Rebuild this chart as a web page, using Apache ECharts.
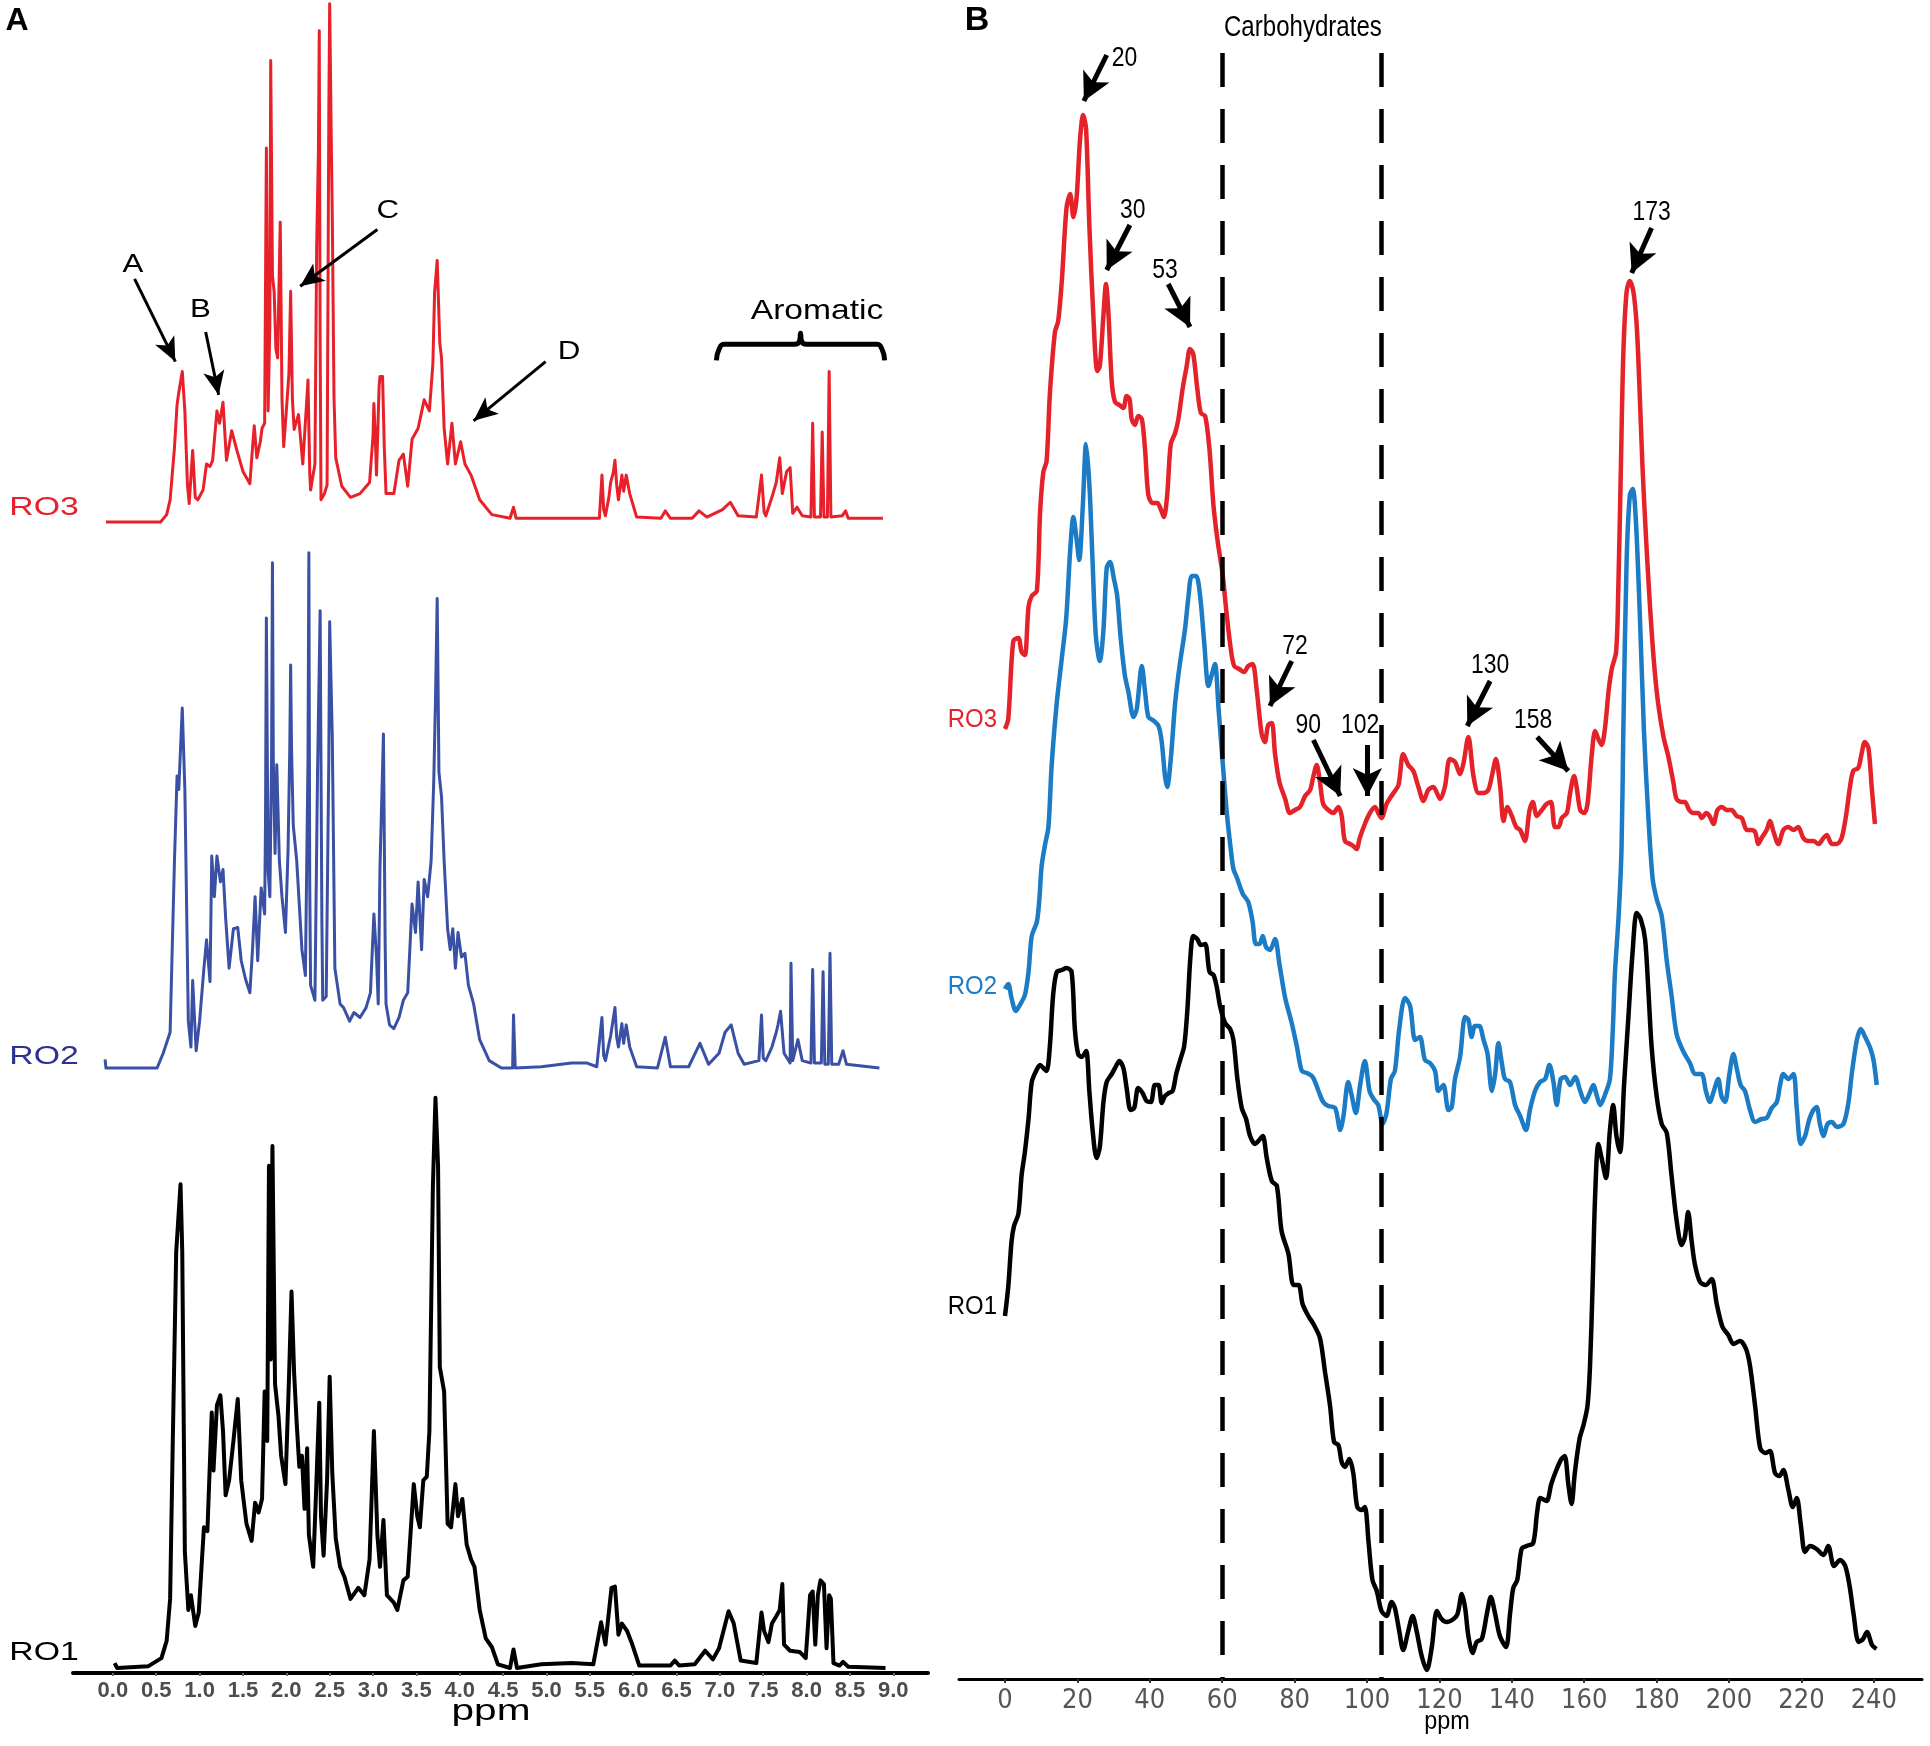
<!DOCTYPE html>
<html>
<head>
<meta charset="utf-8">
<script src="https://cdn.jsdelivr.net/npm/echarts@6/dist/echarts.min.js"></script>
<style>
  html, body { margin: 0; padding: 0; background: #fff; }
  #chart { width: 1930px; height: 1746px; }
</style>
</head>
<body>
<div id="chart"></div>
<script>
// ---- Panel A: 1H NMR (ppm, intensity a.u.) ----
const hTicks = [0, 0.5, 1, 1.5, 2, 2.5, 3, 3.5, 4, 4.5, 5, 5.5, 6, 6.5, 7, 7.5, 8, 8.5, 9];

const hRO3Ppm = [-0.08,0.55,0.62,0.66,0.71,0.74,0.76,0.80,0.83,0.86,0.88,0.92,0.95,0.98,1.04,1.08,1.12,1.15,1.20,1.23,1.27,1.31,1.37,1.43,1.50,1.58,1.61,1.63,1.66,1.70,1.72,1.75,1.77,1.79,1.81,1.82,1.84,1.86,1.88,1.90,1.93,1.95,1.97,2.00,2.03,2.05,2.07,2.09,2.14,2.19,2.25,2.27,2.28,2.33,2.35,2.37,2.38,2.39,2.40,2.44,2.47,2.49,2.50,2.52,2.53,2.55,2.57,2.64,2.74,2.85,2.96,3.00,3.01,3.03,3.04,3.07,3.08,3.11,3.13,3.15,3.24,3.30,3.35,3.40,3.45,3.52,3.59,3.65,3.69,3.71,3.74,3.77,3.79,3.82,3.86,3.91,3.95,4.01,4.06,4.13,4.23,4.37,4.58,4.62,4.65,5.08,5.61,5.64,5.66,5.68,5.72,5.74,5.77,5.79,5.81,5.83,5.87,5.89,5.92,5.96,6.04,6.32,6.37,6.43,6.68,6.76,6.85,7.03,7.12,7.21,7.42,7.48,7.51,7.53,7.60,7.65,7.69,7.72,7.77,7.81,7.84,7.89,7.95,8.05,8.07,8.09,8.16,8.18,8.20,8.24,8.26,8.28,8.41,8.45,8.48,8.88];
const hRO3Int = [0,0,6,18,60,95,105,122,90,30,15,58,20,18,26,47,45,50,90,80,97,50,74,58,41,31,60,78,52,65,76,80,303,90,160,374,200,186,140,133,243,100,61,90,120,187,100,75,87,47,115,40,26,47,223,300,398,150,18,23,30,330,420,300,249,100,52,29,20,23,32,70,96,60,38,110,118,118,60,23,23,50,55,29,67,76,99,90,128,186,212,145,133,76,47,80,47,65,47,38,18,6,3,12,3,3,3,38,10,5,20,32,40,50,30,18,38,25,38,23,4,3,9,3,3,9,4,10,16,5,4,38,8,5,20,32,52,23,41,44,7,12,5,4,80,4,4,73,4,4,122,4,5,9,3,3];

const hRO2Ppm = [-0.09,-0.08,0.51,0.58,0.66,0.71,0.74,0.76,0.80,0.83,0.87,0.90,0.92,0.96,1.00,1.05,1.08,1.12,1.14,1.17,1.20,1.24,1.27,1.30,1.34,1.39,1.44,1.48,1.53,1.58,1.61,1.64,1.67,1.71,1.75,1.76,1.77,1.79,1.81,1.83,1.84,1.85,1.87,1.89,1.92,1.95,1.99,2.02,2.04,2.05,2.06,2.08,2.12,2.18,2.22,2.25,2.26,2.27,2.28,2.33,2.36,2.39,2.41,2.42,2.46,2.49,2.50,2.53,2.56,2.62,2.66,2.73,2.78,2.85,2.92,2.97,3.01,3.04,3.06,3.08,3.12,3.14,3.15,3.19,3.24,3.30,3.35,3.40,3.45,3.49,3.52,3.56,3.59,3.63,3.67,3.70,3.72,3.74,3.76,3.79,3.82,3.86,3.89,3.92,3.95,3.98,4.02,4.06,4.10,4.16,4.23,4.34,4.48,4.61,4.62,4.64,4.94,5.29,5.47,5.58,5.64,5.66,5.68,5.74,5.79,5.81,5.83,5.87,5.89,5.92,5.96,6.04,6.28,6.37,6.43,6.64,6.77,6.87,6.99,7.06,7.13,7.21,7.28,7.45,7.48,7.50,7.53,7.60,7.65,7.67,7.70,7.74,7.81,7.82,7.84,7.90,7.95,8.05,8.07,8.09,8.17,8.19,8.21,8.25,8.27,8.29,8.37,8.42,8.46,8.84];
const hRO2Int = [7,0,0,12,29,168,237,226,292,226,38,17,71,14,38,81,104,70,172,139,172,151,161,122,81,113,114,87,72,61,96,139,87,146,125,200,365,160,139,250,410,250,174,246,168,139,110,177,260,327,260,197,168,96,75,250,418,150,67,55,240,371,120,55,58,250,362,269,81,52,49,38,45,41,49,61,125,90,52,162,271,100,52,35,32,41,55,61,133,110,151,96,153,139,168,232,298,381,240,220,168,113,96,113,81,110,90,93,67,52,23,6,0,0,43,0,1,4,4,1,41,10,6,26,49,25,17,36,20,35,17,1,0,25,1,1,20,3,12,29,35,12,3,6,43,8,6,17,29,35,46,12,4,85,6,23,6,4,80,4,4,78,3,3,93,3,3,14,3,0];

const hRO1Ppm = [0.02,0.05,0.41,0.56,0.62,0.66,0.69,0.73,0.78,0.80,0.83,0.87,0.90,0.95,0.99,1.05,1.09,1.14,1.16,1.20,1.24,1.27,1.30,1.34,1.39,1.44,1.48,1.54,1.60,1.64,1.68,1.72,1.75,1.78,1.80,1.82,1.84,1.87,1.91,1.94,1.99,2.03,2.06,2.09,2.12,2.15,2.18,2.21,2.24,2.26,2.31,2.34,2.38,2.40,2.43,2.47,2.50,2.53,2.57,2.62,2.67,2.74,2.83,2.90,2.96,3.01,3.05,3.08,3.12,3.16,3.24,3.28,3.35,3.40,3.44,3.47,3.51,3.54,3.58,3.62,3.65,3.69,3.72,3.75,3.77,3.82,3.86,3.90,3.95,3.98,4.03,4.08,4.13,4.17,4.23,4.30,4.37,4.44,4.58,4.62,4.66,4.94,5.29,5.54,5.63,5.68,5.75,5.79,5.83,5.87,5.93,5.99,6.07,6.43,6.48,6.53,6.71,6.83,6.92,6.99,7.10,7.16,7.24,7.42,7.48,7.51,7.56,7.60,7.65,7.69,7.72,7.74,7.81,7.92,7.99,8.04,8.07,8.10,8.13,8.16,8.20,8.23,8.26,8.28,8.31,8.38,8.42,8.48,8.91];
const hRO1Int = [4,0,1.5,8,22,56,181,337,392,337,94,47,59,34,45,114,111,207,160,213,221,192,140,152,184,218,152,117,103,134,126,137,224,184,407,250,423,230,204,172,149,233,305,239,198,163,172,129,178,108,82,137,215,123,91,152,236,158,105,82,74,56,65,59,88,192,108,82,120,59,53,47,71,74,117,149,123,114,152,155,192,389,462,407,244,224,117,114,149,123,137,100,88,82,47,24,17,3,0,15,0,3,4,3,37,19,65,66,27,36,30,19,2,2,6,2,3,14,7,16,46,36,6,4,45,30,21,36,42,47,68,19,14,13,8,59,62,19,59,71,68,16,59,56,4,2,5,1,0];

// brace over the aromatic region
const braceX = [6.96, 6.99, 7.05, 7.86, 7.92, 7.93, 7.94, 8.00, 8.81, 8.87, 8.90];
const braceY = [131, 140, 144, 144, 147, 153, 147, 144, 144, 140, 131];

// ---- Panel B: 13C NMR (ppm, intensity a.u.) ----
const cTicks = [0, 20, 40, 60, 80, 100, 120, 140, 160, 180, 200, 220, 240];
const carbBounds = [60, 104];

const cRO3Ppm = [0,0.9,2.3,3.7,4.6,5.5,6.5,7.4,8.8,9.7,10.6,11.5,12.4,13.8,14.7,15.7,17.0,18.0,18.9,19.8,20.7,21.6,22.4,23.3,24.4,25.5,26.2,27.2,27.9,28.6,29.5,30.4,31.6,32.7,33.6,34.4,35.0,35.9,36.8,37.8,38.7,39.6,40.8,42.1,43.0,43.9,44.8,45.8,47.0,47.9,49.1,50.2,51.1,52.0,53.1,54.1,55.3,56.5,57.6,58.7,60.1,61.2,62.3,63.3,64.7,66.0,67.2,68.4,69.5,70.9,71.8,72.7,73.7,74.6,75.8,77.4,78.7,80.1,81.5,82.9,84.3,85.2,86.1,87.0,87.9,89.3,90.7,92.1,93.0,93.9,95.3,96.2,97.1,98.0,99.4,100.8,102.2,103.1,104.0,105.4,107.3,108.7,110.0,111.4,112.8,114.2,115.6,116.9,118.3,120.2,121.5,122.9,124.3,125.7,126.6,128.0,129.4,130.8,132.2,133.5,134.5,135.6,136.8,137.7,138.8,140.0,141.2,142.3,143.6,144.9,145.8,146.9,148.3,149.6,150.8,151.9,152.9,153.8,155.2,156.1,157.2,157.9,158.9,160.0,160.9,162.1,163.0,163.9,164.8,165.8,166.7,167.6,168.8,169.4,170.1,170.8,171.7,172.6,173.6,174.5,175.2,176.1,177.1,178.2,179.3,180.4,181.9,183.2,184.6,185.5,186.9,187.8,189.0,190.1,191.5,192.5,193.7,194.6,195.7,196.8,198.0,199.4,200.7,202.1,203.5,204.9,206.0,207.2,208.1,209.0,210.4,211.3,212.3,213.6,215.0,216.4,217.8,219.1,220.5,221.9,223.3,224.7,226.1,227.0,228.4,229.8,231.1,232.3,233.4,234.3,235.7,236.6,237.5,238.5,239.4,240.3];
const cRO3Int = [950,960,1038,1041,1027,1024,1072,1083,1088,1167,1207,1218,1285,1347,1358,1398,1471,1485,1462,1482,1538,1564,1550,1454,1364,1308,1313,1364,1395,1364,1297,1277,1274,1271,1283,1280,1260,1254,1263,1260,1229,1184,1176,1176,1170,1162,1184,1235,1246,1260,1291,1313,1330,1325,1291,1266,1263,1229,1173,1139,1105,1066,1032,1013,1010,1007,1013,1015,990,945,937,954,956,925,897,880,866,869,872,883,889,903,914,897,875,869,866,872,863,838,835,833,830,841,855,866,872,866,861,875,886,894,925,914,908,892,878,889,892,880,892,920,917,905,915,942,903,886,886,889,903,920,892,858,872,863,852,849,838,869,877,863,869,875,877,852,852,861,866,886,903,892,869,866,875,925,948,940,934,953,987,1010,1027,1088,1207,1325,1387,1398,1387,1353,1297,1212,1139,1071,1015,976,942,923,897,880,877,877,869,866,866,861,866,863,855,869,872,869,869,863,861,849,849,847,835,841,849,858,847,835,849,852,849,852,841,838,838,835,841,844,835,835,841,863,892,908,911,925,937,931,892,855];

const cRO2Ppm = [0,0.9,1.8,3.0,4.1,5.5,6.5,7.4,8.8,9.5,10.1,11.1,12.0,12.9,14.3,15.7,16.9,18.0,18.9,19.8,20.5,21.5,22.4,23.3,24.2,25.1,26.2,27.2,28.1,29.0,30.1,31.0,31.9,33.1,34.1,35.5,36.4,37.8,38.7,39.6,40.8,42.4,43.3,44.2,44.8,45.8,47.0,48.3,49.7,50.7,51.6,52.8,53.9,55.0,56.2,57.1,58.0,59.0,60.3,61.2,62.2,63.1,64.0,65.7,67.2,68.4,69.3,70.3,71.2,72.1,73.2,74.6,75.8,77.4,79.2,80.6,82.0,83.4,85.0,86.6,87.9,89.3,91.2,92.6,93.5,94.8,95.8,96.9,98.1,99.4,100.7,101.8,103.1,104.3,105.4,106.6,107.7,108.9,110.5,111.9,113.3,114.6,116.0,117.4,118.8,119.7,121.1,122.5,123.4,124.3,125.7,127.1,128.0,128.9,129.8,131.0,132.2,133.3,134.5,135.4,136.3,137.2,138.1,139.5,140.9,142.3,143.9,145.0,146.4,147.8,149.2,150.4,151.5,152.4,153.5,154.7,156.1,157.5,158.9,160.2,161.4,162.5,163.5,164.4,165.8,167.1,167.9,168.5,169.5,170.3,170.8,171.7,172.6,173.4,174.3,175.4,176.5,177.7,178.9,180.0,181.4,182.8,184.1,185.5,187.3,189.2,190.6,192.4,193.6,194.7,195.8,197.0,197.9,198.9,200.1,201.2,202.1,203.2,204.4,205.8,207.2,209.0,210.4,211.8,213.2,214.1,215.0,216.4,217.8,218.7,219.8,221.0,222.2,223.3,224.2,225.1,226.1,227.2,228.4,229.8,231.6,233.0,233.9,235.3,236.4,237.6,239.0,239.9,240.8];
const cRO2Int = [690,695,681,668,674,684,707,743,757,780,812,835,852,914,976,1021,1060,1128,1162,1139,1119,1173,1235,1195,1117,1043,1018,1049,1111,1117,1100,1083,1043,1004,987,962,970,1013,987,962,959,953,937,903,892,920,976,1015,1049,1083,1103,1103,1083,1038,993,1004,1015,970,909,869,835,810,802,785,777,757,735,735,743,732,729,740,715,681,656,633,608,606,602,588,577,573,571,549,563,597,583,566,594,618,588,580,574,555,566,600,608,650,681,673,639,642,619,616,608,588,594,569,572,600,622,662,659,642,653,653,639,625,588,605,636,617,600,597,574,563,549,569,588,597,600,614,597,574,600,602,594,602,588,577,585,594,583,574,585,600,650,707,763,830,948,1117,1184,1190,1156,1060,948,863,800,780,763,718,684,645,628,616,605,605,588,577,588,600,583,577,605,625,611,594,588,569,557,560,561,571,577,594,605,600,605,571,535,543,560,569,572,555,543,555,557,552,555,577,605,639,650,642,631,619,594];

const cRO1Ppm = [0,0.9,1.8,2.5,3.7,4.6,5.5,6.5,7.4,8.6,9.7,10.6,11.5,12.4,13.3,14.3,15.7,17.0,18.4,19.3,20.2,21.2,22.4,23.3,24.2,25.3,26.2,27.2,28.1,29.5,30.4,31.6,32.7,33.6,34.7,35.7,36.8,38.0,39.1,40.3,41.4,42.4,43.3,44.2,45.2,46.3,47.3,48.4,49.5,50.4,51.2,52.0,53.1,54.1,55.3,56.5,57.6,58.5,59.4,60.8,62.2,63.1,64.2,65.4,66.6,67.7,69.1,70.0,71.2,72.3,73.7,75.1,76.4,78.3,79.7,81.1,82.2,83.8,85.2,87.0,88.4,89.8,90.9,92.1,93.0,93.9,95.1,96.2,97.3,98.5,99.4,100.4,101.5,102.7,104.0,105.4,106.8,107.7,108.9,110.0,111.4,112.6,113.7,115.1,116.5,117.9,119.3,120.6,122.0,123.9,125.0,126.2,127.1,128.0,129.2,130.3,131.7,133.1,134.2,135.4,136.7,138.4,139.5,140.4,141.5,142.7,144.1,145.9,147.0,147.9,149.6,150.9,152.3,153.7,154.6,155.6,156.5,157.4,158.7,159.8,160.9,161.6,162.3,163.0,163.9,164.8,166.0,167.1,168.0,168.9,169.9,171.0,172.2,173.4,174.5,175.6,176.8,177.7,178.6,180.0,181.4,182.8,184.1,185.5,186.9,187.8,188.7,189.7,190.6,192.0,193.6,195.2,196.6,198.2,199.8,201.2,203.0,204.7,205.8,207.2,208.6,210.0,211.3,212.7,213.9,215.0,216.4,217.6,218.7,219.8,221.0,222.4,224.2,226.1,227.4,229.0,230.7,232.1,233.3,234.4,235.8,237.0,238.1,239.5,240.7];
const cRO1Int = [363,392,437,453,465,504,527,560,597,608,614,611,608,633,684,707,709,711,707,650,625,622,628,588,549,521,532,577,597,605,611,618,611,591,569,571,591,586,578,577,594,594,576,583,586,588,605,619,633,670,721,743,740,734,735,707,704,692,673,656,650,639,600,571,560,543,535,538,543,521,498,493,448,425,394,394,375,363,355,341,307,273,237,234,217,212,220,206,172,169,172,138,99,88,68,63,77,71,48,29,48,63,48,23,9,32,68,60,57,60,65,85,71,43,26,37,40,65,82,65,43,32,65,91,99,130,133,136,167,181,178,195,209,220,223,195,175,206,240,254,273,313,392,482,535,521,501,549,574,543,527,594,662,729,766,760,740,690,633,583,555,546,504,459,434,442,467,437,414,397,394,400,375,352,344,335,338,330,313,273,231,226,228,206,203,209,189,172,181,155,127,133,130,124,133,113,119,113,93,65,37,40,47,34,30];

// ---- Annotations (data coordinates) ----
const hLetters = [['A', 0.23, 208], ['B', 1.01, 172], ['C', 3.17, 252], ['D', 5.26, 138]];
const hArrows = [[0.25, 197, 0.72, 130], [1.07, 154, 1.22, 103], [3.05, 237, 2.16, 191], [4.99, 130, 4.16, 82]];
const cPeakLabels = [['20', 33.0, 1620], ['30', 35.3, 1468], ['53', 44.2, 1408], ['72', 80.1, 1032], ['90', 83.8, 953],
                     ['102', 98.1, 953], ['130', 134.0, 1013], ['158', 145.9, 958], ['173', 178.6, 1466]];
const cArrows = [[28.1, 1624, 21.8, 1578], [34.5, 1454, 28.1, 1409], [45.1, 1395, 51.1, 1352], [79.2, 1018, 73.2, 973],
                 [85.2, 939, 92.6, 883], [100.1, 934, 100.1, 883], [134.0, 998, 127.7, 953], [147.0, 942, 155.6, 908],
                 [178.6, 1451, 173.1, 1406]];

const FONT = "'Liberation Sans', Arial, sans-serif";
const NARROW = "'Liberation Sans Narrow', 'Arial Narrow', 'DejaVu Sans Condensed', 'Liberation Sans', sans-serif";
const zip = (xs, ys) => xs.map((x, i) => [x, ys[i]]);
const arrowLines = list => list.map(a => [{ coord: [a[0], a[1]] }, { coord: [a[2], a[3]] }]);

const chart = echarts.init(document.getElementById('chart'), null, { renderer: 'canvas' });

const hAxis = (show) => ({
    type: 'value', min: -0.46, max: 9.4, show: show,
    splitLine: { show: false },
    axisLine: { show: show, onZero: false, lineStyle: { color: '#000', width: 4 } },
    axisTick: { show: show, customValues: hTicks, length: 3, lineStyle: { color: '#666', width: 2 } },
    axisLabel: {
        show: show, customValues: hTicks, margin: 7,
        formatter: v => v.toFixed(1),
        color: '#4d4d4d', fontWeight: 'bold', fontSize: 22, fontFamily: FONT
    }
});

function lineSeries(name, data, xi, color, width, smooth, extra) {
    return Object.assign({
        name: name, type: 'line', xAxisIndex: xi, yAxisIndex: xi,
        data: data, showSymbol: false, symbol: 'none', smooth: smooth,
        clip: false, silent: true, animation: false,
        lineStyle: { color: color, width: width, join: 'round' }
    }, extra || {});
}

const option = {
    backgroundColor: '#fff',
    animation: false,
    grid: [
        { left: 73, width: 855, top: 0, height: 522 },
        { left: 73, width: 855, top: 538, height: 530 },
        { left: 73, width: 855, top: 1088, height: 580 },
        { left: 959, width: 963, top: 0, height: 1679 }
    ],
    xAxis: [
        Object.assign(hAxis(false), { gridIndex: 0 }),
        Object.assign(hAxis(false), { gridIndex: 1 }),
        Object.assign(hAxis(true), { gridIndex: 2, offset: 5 }),
        {
            type: 'value', gridIndex: 3, min: -12.7, max: 253.3,
            splitLine: { show: false },
            axisLine: { onZero: false, lineStyle: { color: '#000', width: 3 } },
            axisTick: { customValues: cTicks, length: 4, lineStyle: { color: '#333', width: 2 } },
            axisLabel: { customValues: cTicks, margin: 8, color: '#555', fontSize: 27, fontFamily: NARROW }
        }
    ],
    yAxis: [
        { type: 'value', gridIndex: 0, min: 0, max: 423, show: false },
        { type: 'value', gridIndex: 1, min: 0, max: 430, show: false },
        { type: 'value', gridIndex: 2, min: 0, max: 470, show: false },
        { type: 'value', gridIndex: 3, min: 0, max: 1679, show: false }
    ],
    series: [
        lineSeries('RO3', zip(hRO3Ppm, hRO3Int), 0, '#e8202a', 3, false, {
            markLine: {
                silent: true, symbol: ['none', 'arrow'], symbolSize: [16, 24],
                label: { show: false }, emphasis: { disabled: true },
                lineStyle: { color: '#000', width: 3, type: 'solid' },
                data: arrowLines(hArrows)
            }
        }),
        lineSeries('brace', zip(braceX, braceY), 0, '#000', 5, 0.5),
        lineSeries('RO2', zip(hRO2Ppm, hRO2Int), 1, '#3a50a5', 3, false),
        lineSeries('RO1', zip(hRO1Ppm, hRO1Int), 2, '#000', 4, false),
        lineSeries('RO1 13C', zip(cRO1Ppm, cRO1Int), 3, '#000', 4.5, 0.3, {
            markLine: {
                silent: true, symbol: ['none', 'none'],
                label: { show: false }, emphasis: { disabled: true },
                lineStyle: { color: '#000', width: 4.5, type: [34, 22] },
                data: carbBounds.map(x => [{ coord: [x, 1626] }, { coord: [x, 0] }])
            }
        }),
        lineSeries('RO2 13C', zip(cRO2Ppm, cRO2Int), 3, '#1b7bc4', 4.5, 0.3),
        lineSeries('RO3 13C', zip(cRO3Ppm, cRO3Int), 3, '#e4222a', 4.5, 0.3, {
            markLine: {
                silent: true, symbol: ['none', 'arrow'], symbolSize: [22, 28],
                label: { show: false }, emphasis: { disabled: true },
                lineStyle: { color: '#000', width: 5, type: 'solid' },
                data: arrowLines(cArrows)
            }
        })
    ]
};

chart.setOption(option);

// text placed in data coordinates, converted after layout
function txt(text, p, size, color, opts) {
    opts = opts || {};
    return {
        type: 'text', x: p[0], y: p[1], scaleX: opts.scaleX || 1, silent: true,
        style: {
            text: text, fill: color, textAlign: opts.align || 'center', textVerticalAlign: 'middle',
            font: (opts.weight || 'normal') + ' ' + size + 'px ' + (opts.family || FONT)
        }
    };
}
const px = (gi, x, y) => chart.convertToPixel({ gridIndex: gi }, [x, y]);

const graphics = [];
graphics.push(txt('A', [17, 21], 32, '#000', { weight: 'bold' }));
graphics.push(txt('B', [977, 21], 34, '#000', { weight: 'bold' }));
graphics.push(txt('RO3', [44, 508], 26, '#e8202a', { scaleX: 1.3 }));
graphics.push(txt('RO2', [44, 1057], 26, '#2e3192', { scaleX: 1.3 }));
graphics.push(txt('RO1', [44, 1653], 26, '#000', { scaleX: 1.3 }));
graphics.push(txt('ppm', [491, 1712], 29, '#000', { scaleX: 1.4 }));
hLetters.forEach(l => graphics.push(txt(l[0], px(0, l[1], l[2]), 25, '#000', { scaleX: 1.25 })));
graphics.push(txt('Aromatic', px(0, 8.12, 171), 28, '#000', { scaleX: 1.2 }));

graphics.push(txt('RO3', [997, 720], 26, '#e4222a', { align: 'right', scaleX: 0.92 }));
graphics.push(txt('RO2', [997, 987], 26, '#1b7bc4', { align: 'right', scaleX: 0.92 }));
graphics.push(txt('RO1', [997, 1307], 26, '#000', { align: 'right', scaleX: 0.92 }));
graphics.push(txt('ppm', [1447, 1722], 26, '#000', { scaleX: 0.9 }));
graphics.push(txt('Carbohydrates', px(3, 82.3, 1651), 29, '#000', { scaleX: 0.83 }));
cPeakLabels.forEach(l => graphics.push(txt(l[0], px(3, l[1], l[2]), 27, '#000', { scaleX: 0.85 })));

chart.setOption({ graphic: graphics });
</script>
</body>
</html>
